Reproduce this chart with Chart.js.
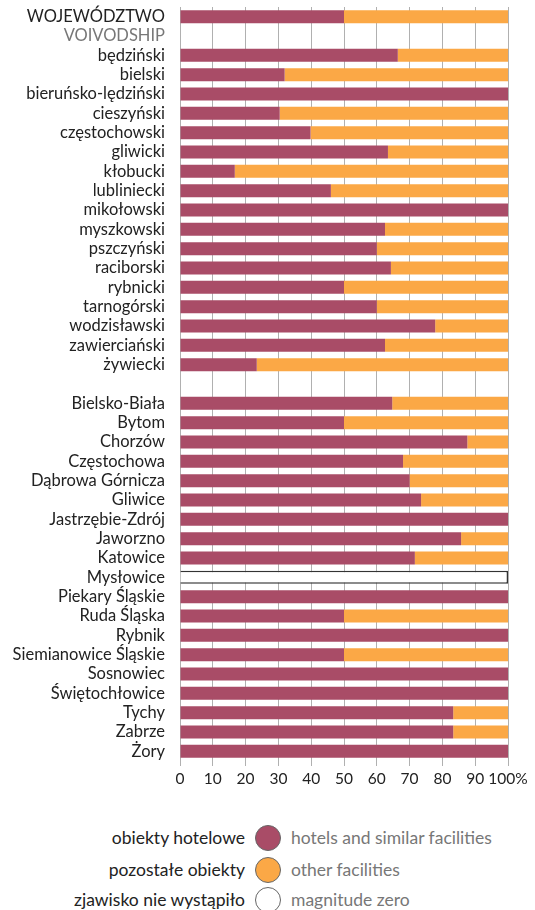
<!DOCTYPE html>
<html>
<head>
<meta charset="utf-8">
<script src="https://cdn.jsdelivr.net/npm/chart.js@4"></script>
<style>
  body { margin: 0; background: #fff; font-family: Lato, "Noto Sans", sans-serif; }
  #wrap { position: relative; width: 535px; height: 790px; }
  .leg { position: absolute; left: 0; width: 535px; height: 26px; font-size: 17.5px; }
  .leg .pl { position: absolute; right: 290px; top: 2px; color: #222; white-space: nowrap; }
  .leg .dot { position: absolute; left: 255px; top: 0; width: 26px; height: 26px; border-radius: 50%; border: 1px solid #666; box-sizing: border-box; }
  .leg .en { position: absolute; left: 291px; top: 2px; color: #777; white-space: nowrap; }
</style>
</head>
<body>
<div id="wrap"><canvas id="wykres"></canvas></div>
<div class="leg" style="top:825px"><span class="pl">obiekty hotelowe</span><span class="dot" style="background:#a94c67"></span><span class="en">hotels and similar facilities</span></div>
<div class="leg" style="top:857px"><span class="pl">pozostałe obiekty</span><span class="dot" style="background:#fba846"></span><span class="en">other facilities</span></div>
<div class="leg" style="top:887px"><span class="pl">zjawisko nie wystąpiło</span><span class="dot" style="background:#fff"></span><span class="en">magnitude zero</span></div>
<script>
const jednostki = [
  "WOJEWÓDZTWO", "VOIVODSHIP",
  "będziński", "bielski", "bieruńsko-lędziński", "cieszyński", "częstochowski",
  "gliwicki", "kłobucki", "lubliniecki", "mikołowski", "myszkowski", "pszczyński",
  "raciborski", "rybnicki", "tarnogórski", "wodzisławski", "zawierciański", "żywiecki",
  "",
  "Bielsko-Biała", "Bytom", "Chorzów", "Częstochowa", "Dąbrowa Górnicza", "Gliwice",
  "Jastrzębie-Zdrój", "Jaworzno", "Katowice", "Mysłowice", "Piekary Śląskie",
  "Ruda Śląska", "Rybnik", "Siemianowice Śląskie", "Sosnowiec", "Świętochłowice",
  "Tychy", "Zabrze", "Żory",
];

const hotelowe = [
  50, null,
  66.4, 31.9, 100, 30.4, 39.8, 63.4, 16.7, 46, 100, 62.5, 60, 64.3, 50, 60, 77.8, 62.5, 23.4,
  null,
  64.7, 50, 87.6, 68, 70, 73.5, 100, 85.7, 71.6, 0, 100, 50, 100, 50, 100, 100, 83.3, 83.3, 100,
];

const pozostale = [
  50, null,
  33.6, 68.1, 0, 69.6, 60.2, 36.6, 83.3, 54, 0, 37.5, 40, 35.7, 50, 40, 22.2, 37.5, 76.6,
  null,
  35.3, 50, 12.4, 32, 30, 26.5, 0, 14.3, 28.4, 0, 0, 50, 0, 50, 0, 0, 16.7, 16.7, 0,
];

// zjawisko nie wystąpiło (tylko Mysłowice)
const brak = [
  null, null,
  null, null, null, null, null, null, null, null, null, null, null, null, null, null, null, null, null,
  null,
  null, null, null, null, null, null, null, null, null, 100, null, null, null, null, null, null, null, null, null,
];

const osX = [0, 10, 20, 30, 40, 50, 60, 70, 80, 90, 100];

const ctx = document.getElementById("wykres").getContext("2d");

new Chart(ctx, {
  type: "bar",
  data: {
    labels: jednostki,
    datasets: [
      { label: "obiekty hotelowe", data: hotelowe, backgroundColor: "#a94c67", borderWidth: 0 },
      { label: "pozostałe obiekty", data: pozostale, backgroundColor: "#fba846", borderWidth: 0 },
      { label: "zjawisko nie wystąpiło", data: brak, backgroundColor: "#ffffff", borderColor: "#333", borderWidth: 1.5 },
    ],
  },
  options: {
    indexAxis: "y",
    responsive: true,
    maintainAspectRatio: false,
    animation: false,
    layout: { padding: { top: 7, right: 27, left: 0, bottom: 0 } },
    datasets: { bar: { barPercentage: 0.67, categoryPercentage: 1 } },
    plugins: { legend: { display: false }, tooltip: { enabled: false } },
    scales: {
      x: {
        stacked: true,
        min: 0,
        max: 100,
        afterBuildTicks: (s) => { s.ticks = osX.map((v) => ({ value: v })); },
        afterFit: (s) => { s.height = 29; },
        grid: { color: "#b0b0b0", lineWidth: 1, drawTicks: true, tickLength: 5 },
        border: { display: false },
        ticks: {
          color: "#222",
          padding: 4,
          autoSkip: false,
          maxRotation: 0,
          minRotation: 0,
          font: { family: "Lato", size: 15.5 },
          callback: (v) => (v === 100 ? "100%" : v),
        },
      },
      y: {
        stacked: true,
        afterFit: (s) => { s.width = 180; s.paddingTop = 0; s.paddingBottom = 0; },
        grid: { display: false },
        border: { display: false },
        ticks: {
          autoSkip: false,
          padding: 7,
          font: { family: "Lato", size: 16.5 },
          color: (c) => (c.index === 1 ? "#777" : "#222"),
        },
      },
    },
  },
});
</script>
</body>
</html>
